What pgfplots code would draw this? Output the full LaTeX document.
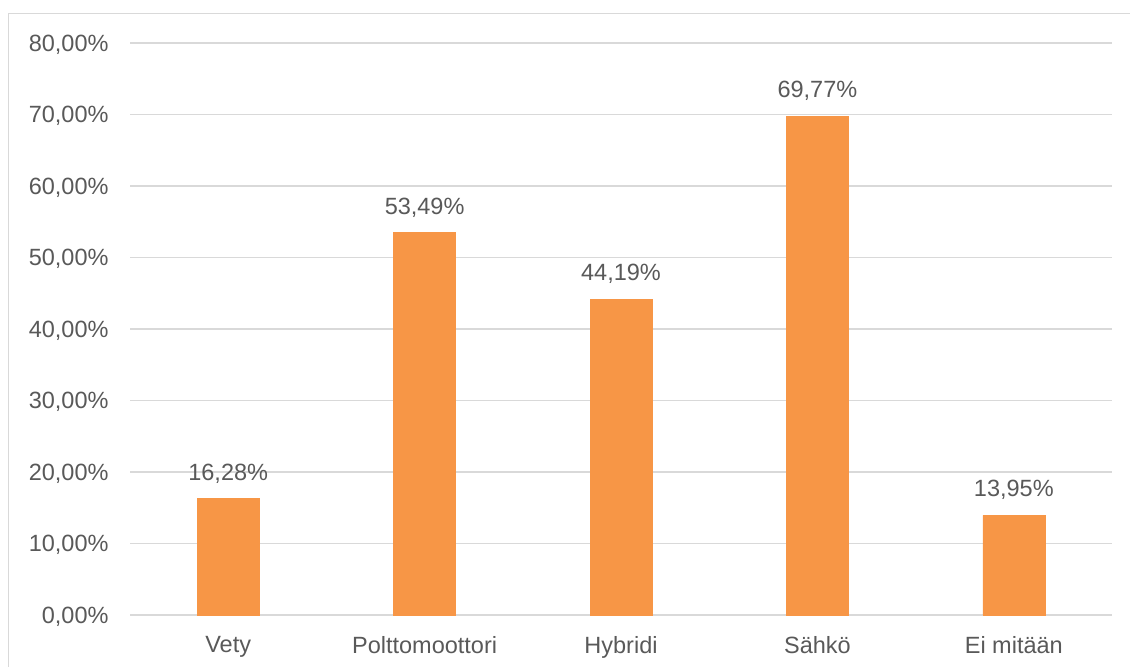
\documentclass[border=0pt]{standalone}
\usepackage{pgfplots}
\pgfplotsset{compat=1.18}
\usepackage{fontspec}
\setmainfont{Liberation Sans}
\definecolor{barorange}{HTML}{F79646}
\definecolor{gridgrey}{HTML}{D9D9D9}
\definecolor{textgrey}{HTML}{595959}
\definecolor{framegrey}{HTML}{D9D9D9}
\begin{document}
\begin{tikzpicture}[x=1bp,y=1bp]
\useasboundingbox (0,0) rectangle (1130,-667);
\begin{scope}
\clip (0,0) rectangle (1130,-667);
\draw[framegrey, line width=1.2bp] (8.5,-13.5) rectangle (1140,-680);
\end{scope}
\begin{axis}[
  at={(130bp,-615bp)}, anchor=south west,
  scale only axis, width=982bp, height=572bp,
  xmin=-0.5, xmax=4.5, ymin=0, ymax=80,
  ybar, bar width=62bp,
  axis line style={draw=none},
  major tick length=0pt,
  ymajorgrids, grid style={gridgrey, line width=1.2bp},
  ytick={0,10,...,80},
  yticklabels={{0,00\%},{10,00\%},{20,00\%},{30,00\%},{40,00\%},{50,00\%},{60,00\%},{70,00\%},{80,00\%}},
  yticklabel style={font=\fontsize{23.5bp}{28bp}\selectfont, text=textgrey, xshift=-18bp, yshift=-1.5bp},
  xtick={0,1,2,3,4},
  xticklabels={Vety,Polttomoottori,Hybridi,Sähkö,Ei mitään},
  xticklabel style={font=\fontsize{23.5bp}{28bp}\selectfont, text=textgrey, yshift=-18bp},
  /pgf/number format/assume math mode=true,
  nodes near coords={\pgfmathprintnumber[fixed,zerofill,precision=2,use comma]{\pgfplotspointmeta}\%},
  nodes near coords style={font=\fontsize{23.5bp}{28bp}\selectfont, text=textgrey, yshift=12bp},
  clip=false,
]
\addplot[fill=barorange, draw=barorange] coordinates {
  (0,16.28) (1,53.49) (2,44.19) (3,69.77) (4,13.95)
};
\end{axis}
\end{tikzpicture}
\end{document}
